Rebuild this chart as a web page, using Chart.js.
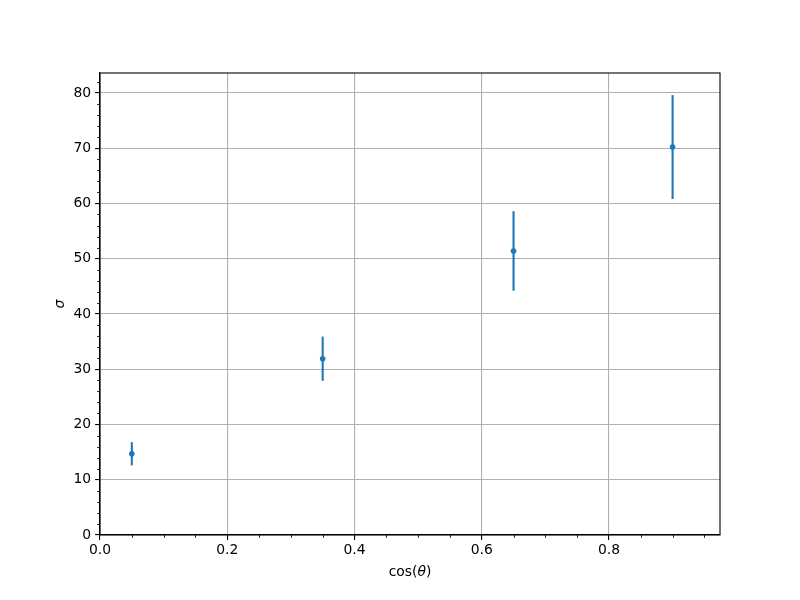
<!DOCTYPE html>
<html lang="en">
<head>
    <meta charset="UTF-8">
    <title>sigma vs cos(theta)</title>
    <script src="https://cdn.jsdelivr.net/npm/chart.js@4.4.0/dist/chart.umd.min.js"></script>
    <style>
        body { margin: 0; background: white; }
        #wrap { width: 800px; height: 600px; }
    </style>
</head>
<body>
    <div id="wrap"><canvas id="chart" width="800" height="600"></canvas></div>

    <script>
        // Data
        const cosTheta = [0.05, 0.35, 0.65, 0.9];
        const sigma = [14.7, 31.9, 51.4, 70.2];
        const sigmaErr = [2.1, 4.0, 7.2, 9.4];

        const xMax = 0.9745;
        const yMax = 83.6;
        const blue = '#1f77b4';
        const font = "'DejaVu Sans', sans-serif";

        // error bars, minor ticks, frame and axis titles
        const extras = {
            id: 'extras',
            beforeDatasetsDraw(chart) {
                const ctx = chart.ctx;
                const xs = chart.scales.x, ys = chart.scales.y;
                ctx.save();
                ctx.strokeStyle = blue;
                ctx.lineWidth = 2.1;
                cosTheta.forEach((x, i) => {
                    const px = xs.getPixelForValue(x);
                    ctx.beginPath();
                    ctx.moveTo(px, ys.getPixelForValue(sigma[i] - sigmaErr[i]));
                    ctx.lineTo(px, ys.getPixelForValue(sigma[i] + sigmaErr[i]));
                    ctx.stroke();
                });
                ctx.restore();
            },
            afterDraw(chart) {
                const ctx = chart.ctx;
                const a = chart.chartArea;
                const xs = chart.scales.x, ys = chart.scales.y;
                ctx.save();
                ctx.strokeStyle = 'black';
                ctx.lineWidth = 0.85;
                ctx.beginPath();
                for (let k = 1; k * 0.05 <= xMax; k++) {
                    if (k % 4 === 0) continue;
                    const px = Math.round(xs.getPixelForValue(k * 0.05)) + 0.5;
                    ctx.moveTo(px, a.bottom);
                    ctx.lineTo(px, a.bottom + 2.8);
                }
                for (let k = 1; k * 2 <= yMax; k++) {
                    if (k % 5 === 0) continue;
                    const py = Math.round(ys.getPixelForValue(k * 2)) + 0.5;
                    ctx.moveTo(a.left, py);
                    ctx.lineTo(a.left - 2.8, py);
                }
                ctx.stroke();

                ctx.lineWidth = 1.1;
                ctx.strokeRect(a.left, a.top, a.right - a.left, a.bottom - a.top);

                // x title: cos(θ)
                ctx.fillStyle = 'black';
                ctx.textBaseline = 'alphabetic';
                const f1 = "13.9px " + font, f2 = "italic 13.9px " + font;
                const parts = [['cos(', f1], ['θ', f2], [')', f1]];
                let total = 0;
                parts.forEach(p => { ctx.font = p[1]; total += ctx.measureText(p[0]).width; });
                let x = (a.left + a.right) / 2 - total / 2;
                parts.forEach(p => {
                    ctx.font = p[1];
                    ctx.fillText(p[0], x, 576);
                    x += ctx.measureText(p[0]).width;
                });

                // y title: σ
                ctx.translate(64, (a.top + a.bottom) / 2);
                ctx.rotate(-Math.PI / 2);
                ctx.font = f2;
                ctx.textAlign = 'center';
                ctx.fillText('σ', 0, 0);
                ctx.restore();
            }
        };

        new Chart(document.getElementById('chart'), {
            type: 'scatter',
            data: {
                datasets: [{
                    data: cosTheta.map((x, i) => ({ x: x, y: sigma[i] })),
                    backgroundColor: blue,
                    borderColor: blue,
                    pointRadius: 2.8,
                    borderWidth: 0
                }]
            },
            options: {
                responsive: false,
                animation: false,
                layout: { padding: { left: 0, top: 73, right: 80, bottom: 0 } },
                plugins: { legend: { display: false }, tooltip: { enabled: false } },
                scales: {
                    x: {
                        type: 'linear',
                        min: 0,
                        max: xMax,
                        afterFit: s => { s.height = 65; },
                        border: { color: 'black', width: 1.1 },
                        grid: { color: '#b0b0b0', lineWidth: 1.1, tickColor: 'black', tickLength: 4.9, tickWidth: 1.1 },
                        ticks: {
                            stepSize: 0.2,
                            includeBounds: false,
                            padding: 2,
                            maxRotation: 0,
                            color: 'black',
                            font: { family: font, size: 13.9 },
                            callback: v => v.toFixed(1)
                        }
                    },
                    y: {
                        min: 0,
                        max: yMax,
                        afterFit: s => { s.width = 100; },
                        border: { color: 'black', width: 1.1 },
                        grid: { color: '#b0b0b0', lineWidth: 1.1, tickColor: 'black', tickLength: 4.9, tickWidth: 1.1 },
                        ticks: {
                            stepSize: 10,
                            includeBounds: false,
                            padding: 4,
                            color: 'black',
                            font: { family: font, size: 13.9 },
                            callback: v => Math.round(v).toString()
                        }
                    }
                }
            },
            plugins: [extras]
        });
    </script>
</body>
</html>
